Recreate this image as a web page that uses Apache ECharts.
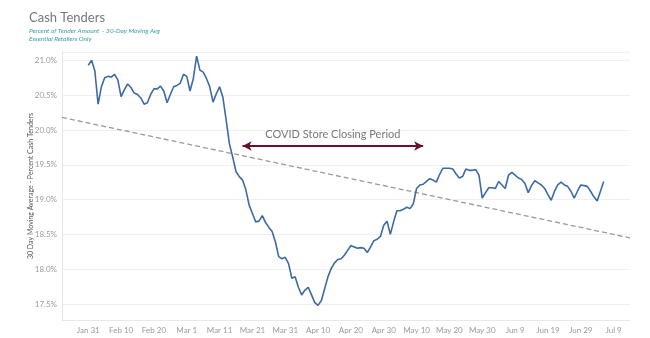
<!DOCTYPE html>
<html>
<head>
<meta charset="utf-8">
<script src="https://cdn.jsdelivr.net/npm/echarts@6/dist/echarts.min.js"></script>
<style>
html,body{margin:0;padding:0;background:#fff;}
#chart{width:650px;height:338px;}
</style>
</head>
<body>
<div id="chart"></div>
<script>
// ---- data ----
const axisStart = '2020-01-23';
const axisEnd = '2020-07-14';
const seriesStart = 'Jan 31';
const cashPct = [20.93, 21.00, 20.85, 20.37, 20.62, 20.75, 20.77, 20.76, 20.80, 20.72,
 20.48, 20.58, 20.66, 20.61, 20.53, 20.51, 20.46, 20.37, 20.39, 20.51,
 20.59, 20.59, 20.63, 20.56, 20.39, 20.51, 20.62, 20.64, 20.67, 20.80,
 20.77, 20.56, 20.74, 21.06, 20.86, 20.83, 20.74, 20.62, 20.40, 20.52,
 20.62, 20.47, 20.14, 19.80, 19.61, 19.40, 19.33, 19.28, 19.14, 18.92,
 18.80, 18.68, 18.69, 18.77, 18.67, 18.60, 18.54, 18.39, 18.18, 18.15,
 18.17, 18.08, 17.87, 17.89, 17.74, 17.63, 17.70, 17.74, 17.63, 17.52,
 17.48, 17.55, 17.72, 17.89, 18.01, 18.09, 18.14, 18.15, 18.20, 18.27,
 18.34, 18.32, 18.30, 18.31, 18.30, 18.24, 18.32, 18.41, 18.43, 18.47,
 18.63, 18.69, 18.50, 18.68, 18.84, 18.84, 18.86, 18.89, 18.87, 18.94,
 19.16, 19.21, 19.22, 19.26, 19.30, 19.28, 19.25, 19.36, 19.45, 19.45,
 19.45, 19.44, 19.37, 19.31, 19.33, 19.44, 19.42, 19.42, 19.43, 19.35,
 19.02, 19.10, 19.17, 19.17, 19.16, 19.26, 19.21, 19.16, 19.35, 19.39,
 19.35, 19.31, 19.29, 19.23, 19.10, 19.20, 19.27, 19.24, 19.21, 19.16,
 19.07, 18.99, 19.12, 19.21, 19.25, 19.21, 19.19, 19.12, 19.02, 19.12,
 19.21, 19.20, 19.19, 19.12, 19.04, 18.98, 19.12, 19.26];
const trendStart = 20.18;
const trendEnd = 18.45;
const tickLabels = ['Jan 31','Feb 10','Feb 20','Mar 1','Mar 11','Mar 21','Mar 31','Apr 10','Apr 20','Apr 30','May 10','May 20','May 30','Jun 9','Jun 19','Jun 29','Jul 9'];
const arrowFrom = 'Mar 18';
const arrowTo = 'May 12';
const arrowLevel = 19.77;
const arrowText = 'COVID Store Closing Period';

// ---- categories (daily) ----
const MONTHS = ['Jan','Feb','Mar','Apr','May','Jun','Jul','Aug','Sep','Oct','Nov','Dec'];
const categories = [];
for (let t = Date.parse(axisStart + 'T00:00:00Z'); t <= Date.parse(axisEnd + 'T00:00:00Z'); t += 86400000) {
  const d = new Date(t);
  categories.push(MONTHS[d.getUTCMonth()] + ' ' + d.getUTCDate());
}
const startIdx = categories.indexOf(seriesStart);
const mainData = cashPct.map((v, i) => [categories[startIdx + i], v]);
const trendData = [[categories[0], trendStart], [categories[categories.length - 1], trendEnd]];

const chart = echarts.init(document.getElementById('chart'), null, {renderer: 'canvas'});
chart.setOption({
  animation: false,
  backgroundColor: '#ffffff',
  title: {
    left: 24, top: 6,
    text: 'Cash Tenders',
    subtext: 'Percent of Tender Amount  - 30-Day Moving Avg\nEssential Retailers Only',
    itemGap: 3,
    textStyle: {fontFamily: 'Lato', fontSize: 13, fontWeight: 'normal', color: '#777777'},
    subtextStyle: {fontFamily: 'Lato', fontSize: 6.5, fontStyle: 'italic', color: '#3a9c9a', lineHeight: 8}
  },
  grid: {left: 62, right: 20, top: 52, bottom: 18},
  xAxis: {
    type: 'category',
    data: categories,
    boundaryGap: false,
    axisLine: {show: true, lineStyle: {color: '#e8e8e8'}},
    axisTick: {show: false},
    splitLine: {show: false},
    axisLabel: {
      interval: (idx, val) => tickLabels.indexOf(val) >= 0,
      color: '#9a9a9a', fontSize: 8, fontFamily: 'Lato', margin: 6
    }
  },
  yAxis: {
    type: 'value',
    min: 17.27, max: 21.12,
    splitNumber: 8,
    minInterval: 0.5, maxInterval: 0.5,
    name: '30 Day Moving Average - Percent Cash Tenders',
    nameLocation: 'middle',
    nameGap: 28,
    nameMoveOverlap: false,
    nameTextStyle: {color: '#555555', fontSize: 7, fontFamily: 'Lato'},
    axisLine: {show: true, lineStyle: {color: '#e8e8e8'}},
    axisTick: {show: false},
    splitLine: {show: true, lineStyle: {color: '#f0f0f0', width: 1}},
    axisLabel: {
      showMinLabel: false, showMaxLabel: false,
      formatter: v => v.toFixed(1) + '%',
      color: '#9a9a9a', fontSize: 8, fontFamily: 'Lato', margin: 5
    }
  },
  series: [
    {
      name: 'trend',
      type: 'line',
      data: trendData,
      symbol: 'none',
      silent: true,
      lineStyle: {color: '#9a9a9a', width: 1.3, type: [5, 3]},
      z: 1
    },
    {
      name: 'Cash Tenders',
      type: 'line',
      data: mainData,
      symbol: 'none',
      smooth: false,
      lineStyle: {color: '#3d6aa3', width: 1.6},
      z: 3,
      markLine: {
        silent: true,
        symbol: ['arrow', 'arrow'],
        symbolSize: [7, 9],
        lineStyle: {color: '#6b0f30', width: 2.2, type: 'solid'},
        label: {
          show: true, position: 'middle', formatter: arrowText,
          color: '#777777', fontSize: 11, fontFamily: 'Lato', distance: 6
        },
        data: [[{coord: [arrowFrom, arrowLevel]}, {coord: [arrowTo, arrowLevel]}]]
      }
    }
  ]
});
</script>
</body>
</html>
